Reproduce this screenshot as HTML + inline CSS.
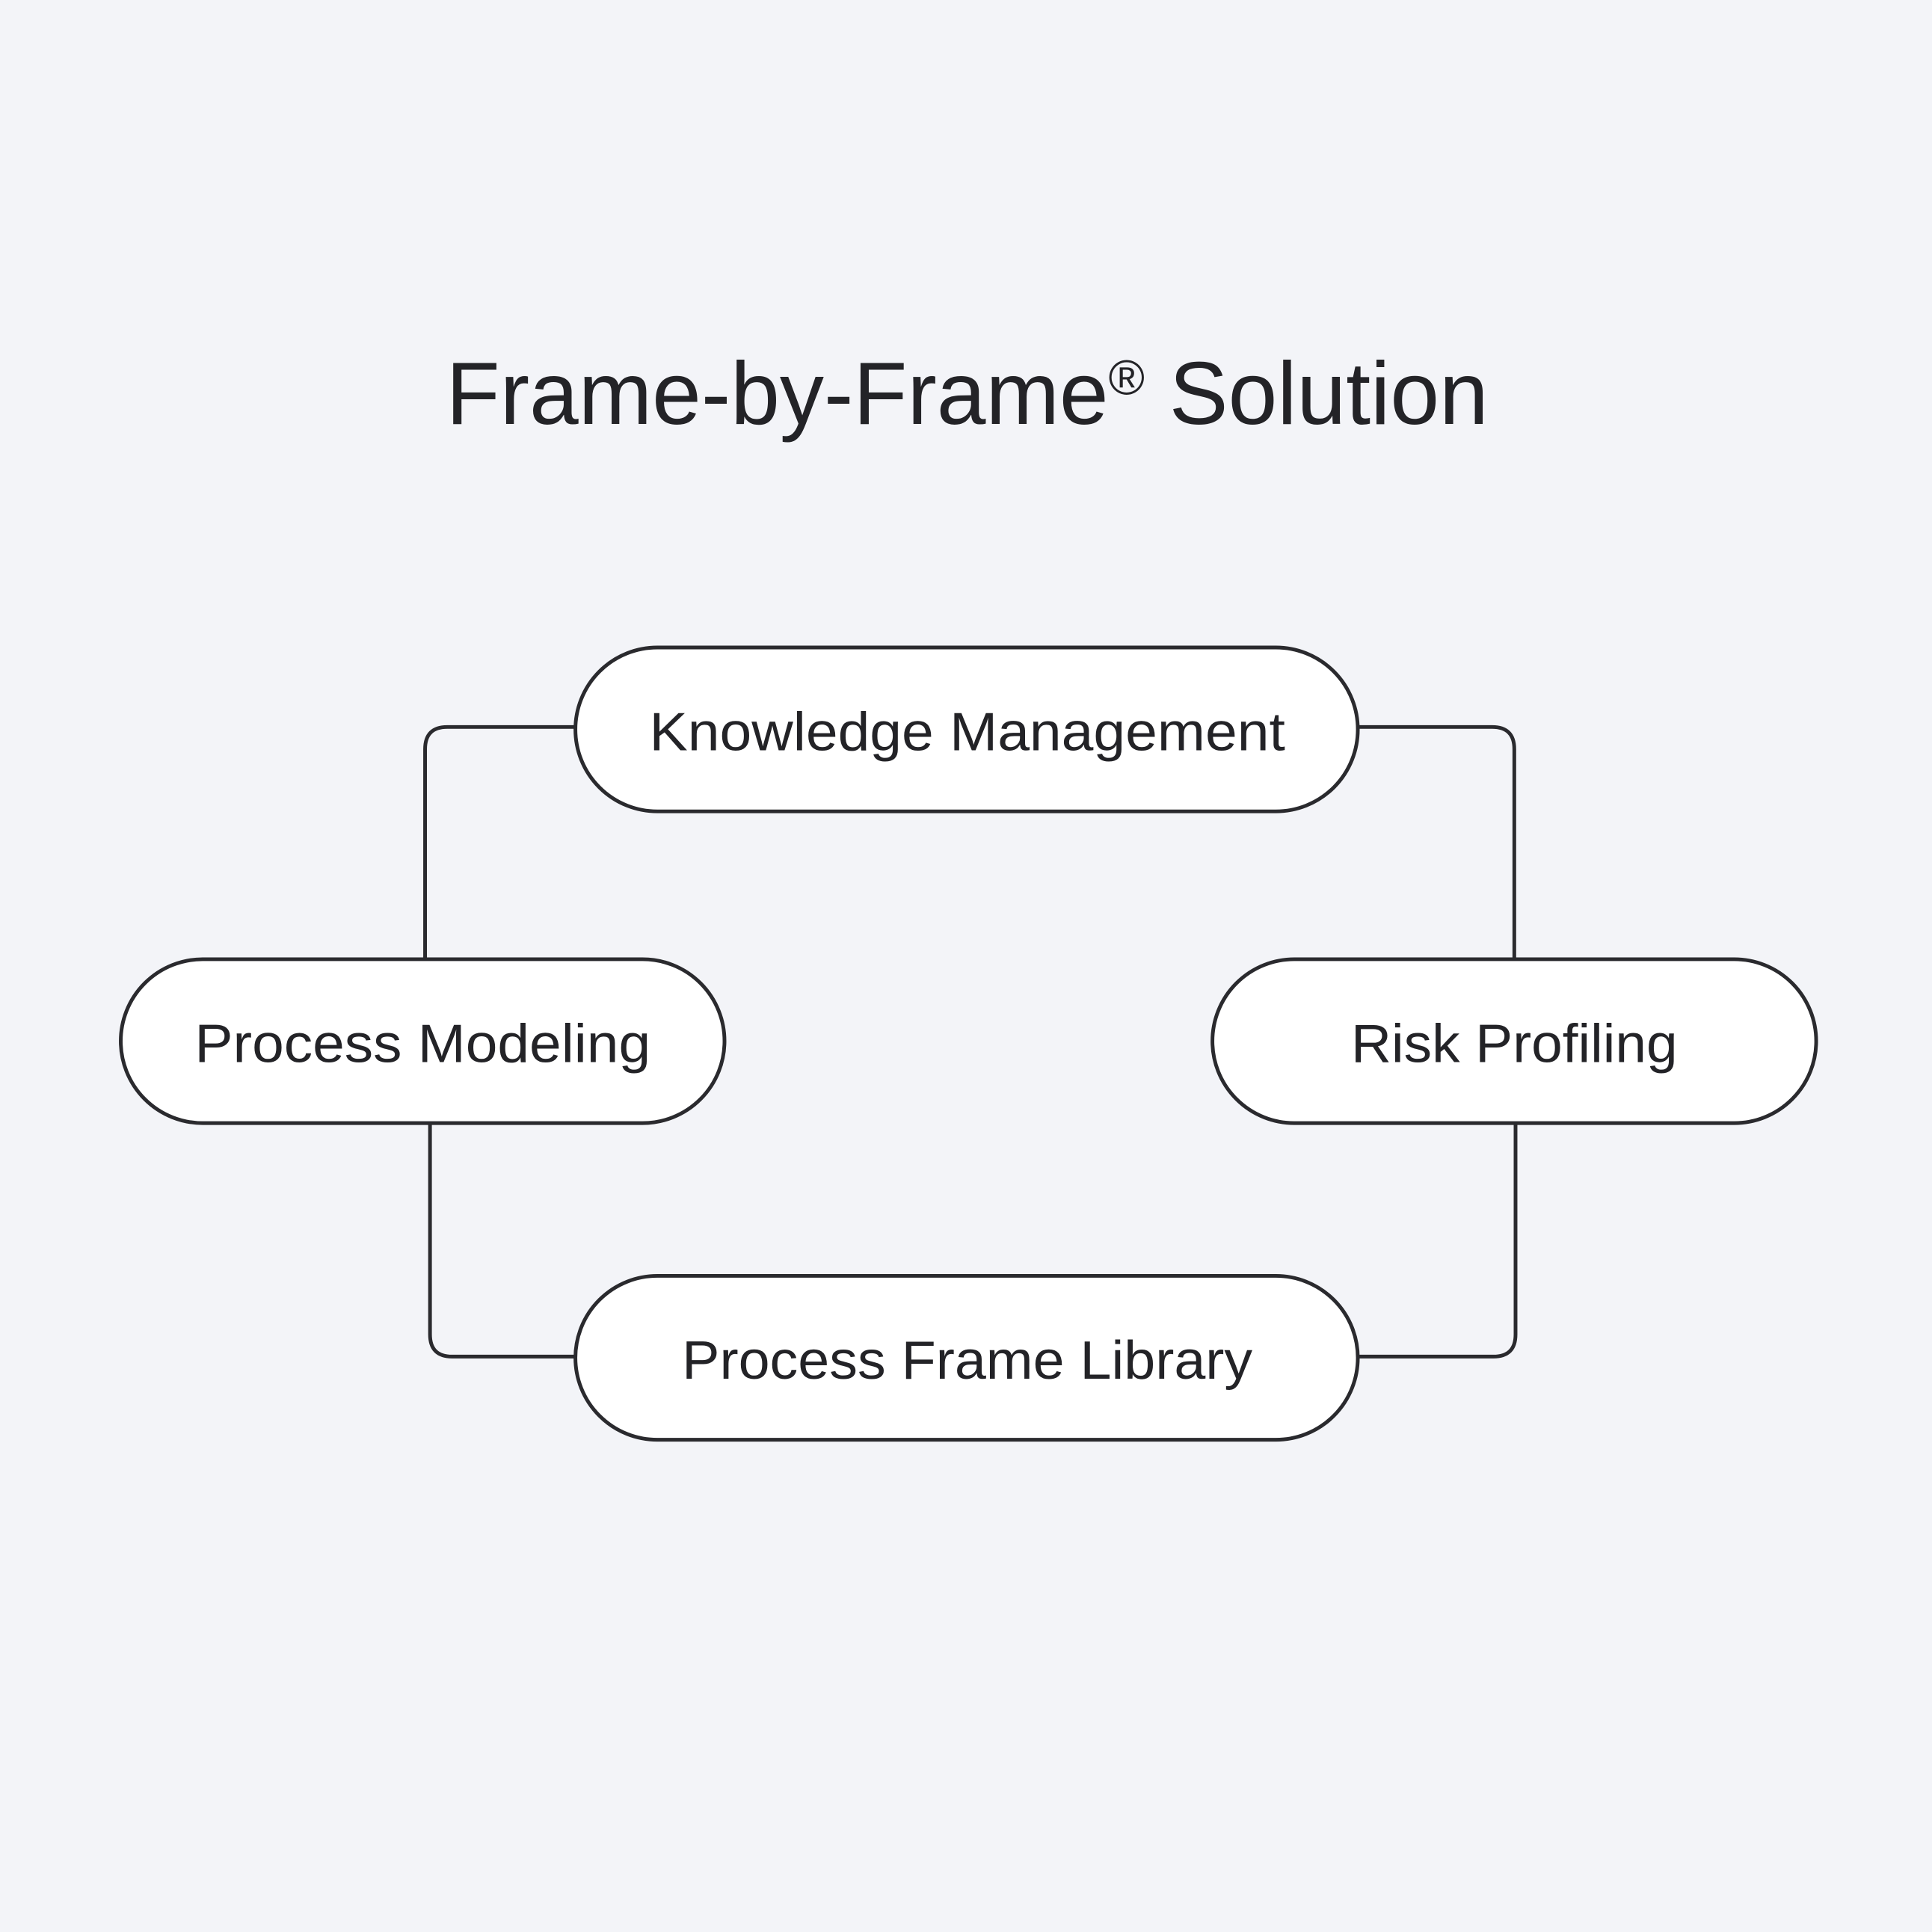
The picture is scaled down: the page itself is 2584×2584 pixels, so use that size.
<!DOCTYPE html>
<html><head><meta charset="utf-8"><style>
html,body{margin:0;padding:0;background:#f3f4f8;}
svg{display:block;}
text{font-family:"Liberation Sans",sans-serif;fill:#232327;}
</style></head><body>
<svg width="2584" height="2584" viewBox="0 0 1568 1568" xmlns="http://www.w3.org/2000/svg">
<rect width="1568" height="1568" fill="#f3f4f8"/>
<text x="785" y="344" font-size="72" text-anchor="middle" textLength="846" lengthAdjust="spacingAndGlyphs">Frame-by-Frame<tspan font-size="40" dy="-24">®</tspan><tspan dy="24"> Solution</tspan></text>
<g fill="none" stroke="#2a2a2e" stroke-width="3">
<path d="M467 590 H363 Q345 590 345 608 V778"/>
<path d="M1102 590 H1211 Q1229 590 1229 608 V778"/>
<path d="M349 911 V1083 Q349 1101 367 1101 H467"/>
<path d="M1230 911 V1083 Q1230 1101 1212 1101 H1102"/>
</g>
<g fill="#ffffff" stroke="#2a2a2e" stroke-width="3">
<rect x="467" y="525.5" width="635" height="133" rx="66.5"/>
<rect x="98" y="778.5" width="490" height="133" rx="66.5"/>
<rect x="984" y="778.5" width="490" height="133" rx="66.5"/>
<rect x="467" y="1035.5" width="635" height="133" rx="66.5"/>
</g>
<g font-size="44" text-anchor="middle">
<text x="785" y="609" textLength="516" lengthAdjust="spacingAndGlyphs">Knowledge Management</text>
<text x="343" y="862" textLength="370" lengthAdjust="spacingAndGlyphs">Process Modeling</text>
<text x="1229" y="862" textLength="265" lengthAdjust="spacingAndGlyphs">Risk Profiling</text>
<text x="785" y="1119" textLength="463" lengthAdjust="spacingAndGlyphs">Process Frame Library</text>
</g>
</svg>
</body></html>
